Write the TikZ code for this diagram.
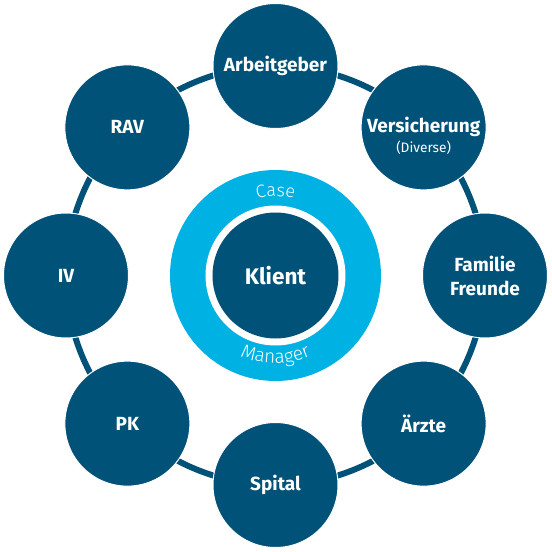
\documentclass[tikz,border=0pt]{standalone}
\usepackage{fontspec}
\setmainfont{Fira Sans}
\newfontfamily\lightfont{Fira Sans Light}
\usetikzlibrary{decorations.text,backgrounds}
\definecolor{navy}{RGB}{1,82,120}
\definecolor{sky}{RGB}{0,177,228}
\begin{document}
\begin{tikzpicture}[x=1pt,y=1pt,
  sat/.style={circle, fill=navy, draw=white, line width=1pt, minimum size=125pt, inner sep=0pt,
    text=white, font=\bfseries\fontsize{19}{24}\selectfont, align=center},
  link/.style={draw=navy, line width=6pt},
  arcbend/.style={bend left=22.5, looseness=0.885},
]
\useasboundingbox (-275.5,-276.5) rectangle (276.5,275.5);
% centre
\node[circle, fill=sky, minimum size=211pt, inner sep=0pt] (cm) at (0,0) {};
\node[circle, fill=white, minimum size=140pt, inner sep=0pt] (gap) at (0,0) {};
\node[circle, fill=navy, minimum size=126pt, inner sep=0pt, text=white,
  font=\bfseries\fontsize{22.5}{26}\selectfont] (k) at (0,0) {Klient};
\path[decorate, decoration={text along path, text color=white,
  text={|\lightfont\fontsize{18}{20}\selectfont|Case}, text align=center}]
  (110:79) arc[start angle=110, end angle=70, radius=79];
\path[decorate, decoration={text along path, text color=white,
  text={|\lightfont\fontsize{19}{21}\selectfont|Manager}, text align=center}]
  (215:88) arc[start angle=215, end angle=325, radius=88];
% satellites
\node[sat] (arb) at (90:209.5) {Arbeitgeber};
\node[sat] (ver) at (45:209.5) {Versicherung};
\node[text=white, font=\fontsize{13.7}{16}\selectfont] (div) at ([yshift=-20pt]ver.center) {(Diverse)};
\node[sat] (fam) at (0:209.5) {Familie\\Freunde};
\node[sat] (arz) at (-45:209.5) {Ärzte};
\node[sat] (spi) at (-90:209.5) {Spital};
\node[sat] (pk) at (-135:209.5) {PK};
\node[sat] (iv) at (180:209.5) {IV};
\node[sat] (rav) at (135:209.5) {RAV};
\begin{pgfonlayer}{background}
\draw[link] (arb.center) to[arcbend] (ver.center);
\draw[link] (ver.center) to[arcbend] (fam.center);
\draw[link] (fam.center) to[arcbend] (arz.center);
\draw[link] (arz.center) to[arcbend] (spi.center);
\draw[link] (spi.center) to[arcbend] (pk.center);
\draw[link] (pk.center) to[arcbend] (iv.center);
\draw[link] (iv.center) to[arcbend] (rav.center);
\draw[link] (rav.center) to[arcbend] (arb.center);
\end{pgfonlayer}
\end{tikzpicture}
\end{document}
